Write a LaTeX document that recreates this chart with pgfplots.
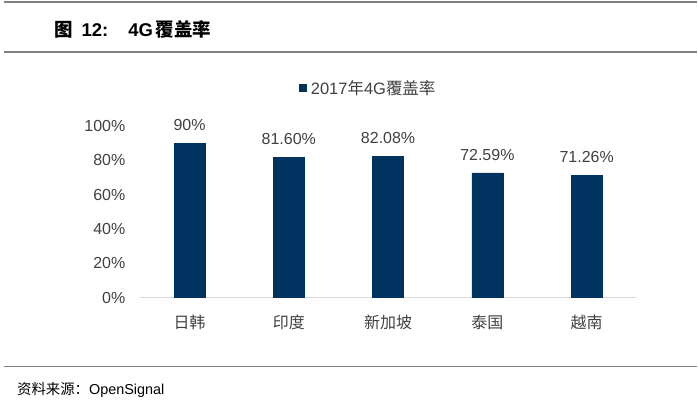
\documentclass[border=0pt]{standalone}
\usepackage{pgfplots}
\pgfplotsset{compat=1.18}
\usepackage{fontspec}
\setmainfont{Liberation Sans}
\newfontfamily\cjk{Noto Sans CJK SC}
\definecolor{barblue}{RGB}{0,50,96}
\definecolor{txtgray}{RGB}{64,64,64}
\definecolor{rulegray}{RGB}{128,128,128}
\definecolor{axisgray}{RGB}{217,217,217}

\begin{document}
\begin{tikzpicture}[x=1pt,y=1pt]
    \path (0,0) rectangle (698,404);
    % title and rules
    \draw[rulegray, line width=1.5pt] (4,402) -- (698,402);
    \draw[rulegray, line width=1.5pt] (4,352) -- (698,352);
    \draw[rulegray, line width=1.5pt] (4,37) -- (698,37);
    \node[anchor=west, inner sep=0pt, font=\fontsize{18.5}{22}\selectfont\bfseries] at (54,375)
        {{\cjk 图}\hspace{9pt}12:\hspace{20pt}4G\hspace{3pt}{\cjk 覆盖率}};
    \node[anchor=west, inner sep=0pt, font=\fontsize{14.4}{17}\selectfont] at (17,14)
        {{\cjk 资料来源：}OpenSignal};
    % legend
    \fill[barblue] (299,312) rectangle (307,320);
    \node[anchor=west, text=txtgray, inner sep=0pt, font=\fontsize{16.5}{20}\selectfont] at (311,316)
        {2017{\cjk 年}4G{\cjk 覆盖率}};

    \begin{axis}[
        at={(140pt,106pt)}, anchor=south west,
        scale only axis,
        width=497pt, height=172pt,
        xmin=-0.5, xmax=4.5,
        ymin=0, ymax=100,
        ytick={0,20,40,60,80,100},
        xtick=data,
        xticklabels={{\cjk 日韩},{\cjk 印度},{\cjk 新加坡},{\cjk 泰国},{\cjk 越南}},
        yticklabel={\pgfmathprintnumber{\tick}\%},
        /pgf/number format/assume math mode=true,
        axis y line*=left,
        y axis line style={draw=none},
        axis x line*=bottom,
        x axis line style={axisgray, line width=1.2pt, -},
        major tick length=0pt,
        ytick style={draw=none},
        xtick style={draw=none},
        tick label style={text=txtgray, font=\fontsize{16}{19}\selectfont},
        yticklabel style={xshift=-11pt},
        xticklabel style={yshift=-14pt},
        clip=false,
        ybar, bar width=31pt,
        point meta=explicit symbolic,
        nodes near coords={\pgfplotspointmeta},
        nodes near coords style={text=txtgray, font=\fontsize{16}{19}\selectfont, yshift=9pt},
    ]
        \addplot[fill=barblue, draw=barblue] coordinates {
            (0,90) [90\%]
            (1,81.6) [81.60\%]
            (2,82.08) [82.08\%]
            (3,72.59) [72.59\%]
            (4,71.26) [71.26\%]
        };
    \end{axis}
\end{tikzpicture}
\end{document}
